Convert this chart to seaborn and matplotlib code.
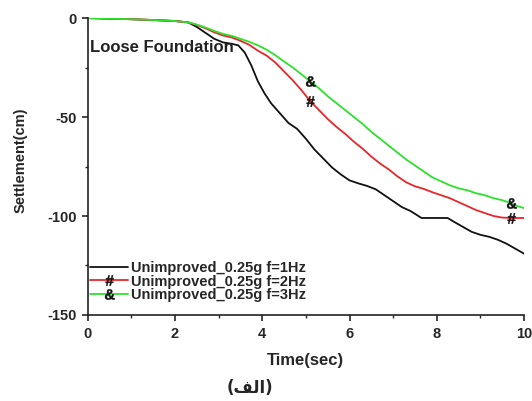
import numpy as np
import pandas as pd
import matplotlib
matplotlib.use("Agg")
import matplotlib.pyplot as plt
from matplotlib.ticker import MultipleLocator
from matplotlib.textpath import TextPath
from matplotlib.font_manager import FontProperties
from matplotlib.path import Path
import seaborn as sns

# Settlement records (time in seconds, settlement in cm)
t_1hz = [0, 0.5, 1.0, 1.5, 2.0, 2.3, 2.5, 2.7, 2.9, 3.1, 3.3, 3.45, 3.6, 3.75, 3.9,
         4.05, 4.2, 4.4, 4.6, 4.8, 5.0, 5.2, 5.4, 5.6, 5.8, 6.0, 6.2, 6.4, 6.6, 6.8,
         7.0, 7.2, 7.4, 7.65, 8.0, 8.25, 8.4, 8.6, 8.8, 9.0, 9.2, 9.4, 9.6, 9.8, 10.0]
s_1hz = [0, -0.3, -0.6, -1.0, -1.5, -2.2, -4.5, -7.5, -10.5, -12.3, -13.0, -13.8, -17.5,
         -24, -32, -38, -43, -48, -53, -56, -61, -66.5, -71, -75.5, -79, -82, -83.5,
         -84.8, -86.5, -89.5, -92.5, -95.5, -97.5, -101, -101, -101, -103, -105.5,
         -108, -109.5, -110.5, -112, -114, -116.5, -119]

t_2hz = [0, 0.5, 1.0, 1.5, 2.0, 2.3, 2.5, 2.7, 2.9, 3.1, 3.3, 3.5, 3.7, 3.9, 4.1, 4.3,
         4.5, 4.7, 4.9, 5.1, 5.3, 5.5, 5.7, 5.9, 6.1, 6.3, 6.5, 6.7, 6.9, 7.1, 7.3,
         7.5, 7.7, 7.9, 8.1, 8.3, 8.5, 8.7, 8.9, 9.1, 9.3, 9.5, 9.7, 10.0]
s_2hz = [0, -0.3, -0.6, -1.0, -1.5, -2.2, -3.5, -5.2, -7.2, -8.8, -9.8, -11.5, -13.5,
         -16.5, -19, -22.5, -27, -31.5, -36.5, -42, -46.5, -51, -55, -58.5, -62.5,
         -66, -70, -73.5, -76.5, -80, -83, -85, -86.3, -88, -89.5, -91, -93, -95,
         -97, -98.5, -100, -100.8, -101, -101]

t_3hz = [0, 0.5, 1.0, 1.5, 2.0, 2.3, 2.5, 2.7, 2.9, 3.1, 3.3, 3.5, 3.7, 3.9, 4.1, 4.3,
         4.5, 4.7, 4.9, 5.1, 5.3, 5.5, 5.7, 5.9, 6.1, 6.3, 6.5, 6.7, 6.9, 7.1, 7.3,
         7.5, 7.7, 7.9, 8.1, 8.3, 8.5, 8.7, 8.9, 9.1, 9.3, 9.5, 9.7, 9.85, 10.0]
s_3hz = [0, -0.3, -0.6, -1.0, -1.5, -2.2, -3.3, -4.8, -6.5, -8, -9, -10.5, -12, -13.8,
         -16, -18.8, -22, -25, -28.5, -32, -35.5, -39.5, -43, -46.5, -50, -53.5,
         -57.5, -61, -64.5, -68, -71.5, -74.5, -77.5, -80.5, -82.5, -84.5, -86, -87,
         -88.5, -89.5, -91, -92, -93.5, -95, -96]

labels = ["Unimproved_0.25g f=1Hz", "Unimproved_0.25g f=2Hz", "Unimproved_0.25g f=3Hz"]
colors = ["#111111", "#e8262a", "#2ee02e"]
symbols = [None, "#", "&"]
symbol_times = [5.1, 9.7]


def glyph_marker(ch):
    """Build a centred path marker from a single bold character."""
    tp = TextPath((0, 0), ch, size=10,
                  prop=FontProperties(family="Liberation Sans", weight="bold"))
    v = tp.vertices.copy()
    lo, hi = v.min(axis=0), v.max(axis=0)
    v -= (lo + hi) / 2
    return Path(v, tp.codes)


sns.set_style("ticks")
plt.rcParams["font.family"] = ["Liberation Sans", "DejaVu Sans"]
plt.rcParams["font.weight"] = "bold"
plt.rcParams["axes.unicode_minus"] = False

fig = plt.figure(figsize=(5.32, 4.01), dpi=100)
ax = fig.add_axes([0.165, 0.2145, 0.82, 0.7405])

series = [(t_1hz, s_1hz), (t_2hz, s_2hz), (t_3hz, s_3hz)]
for (t, s), lab, col, sym in zip(series, labels, colors, symbols):
    df = pd.DataFrame({"Time": t, "Settlement": s})
    kw = {}
    if sym is not None:
        idx = [int(np.argmin(np.abs(np.array(t) - v))) for v in symbol_times]
        kw = dict(marker=glyph_marker(sym), markevery=idx, markersize=7.5,
                  markerfacecolor="#111111", markeredgecolor="#111111",
                  markeredgewidth=0.3)
    sns.lineplot(data=df, x="Time", y="Settlement", ax=ax, color=col, label=lab,
                 linewidth=1.3, errorbar=None, sort=False, **kw)

ax.set_xlim(0, 10)
ax.set_ylim(-150, 0)
ax.xaxis.set_major_locator(MultipleLocator(2))
ax.xaxis.set_minor_locator(MultipleLocator(1))
ax.yaxis.set_major_locator(MultipleLocator(50))
ax.yaxis.set_minor_locator(MultipleLocator(25))
ax.tick_params(which="major", direction="out", length=4, width=1.2,
               labelsize=10.5, pad=4)
ax.tick_params(axis="x", which="major", pad=5)
ax.tick_params(which="minor", direction="out", length=2.5, width=1.0)
for lbl in ax.get_xticklabels() + ax.get_yticklabels():
    lbl.set_fontweight("bold")

sns.despine(ax=ax)
for sp in ("left", "bottom"):
    ax.spines[sp].set_linewidth(1.2)
    ax.spines[sp].set_color("#222222")

ax.set_xlabel("Time(sec)", fontsize=12, fontweight="bold", labelpad=8)
ax.set_ylabel("Settlement(cm)", fontsize=10.5, fontweight="bold")
ax.yaxis.set_label_coords(-0.138, 0.52)

ax.text(0.05, -15, "Loose Foundation", fontsize=12, fontweight="bold",
        ha="left", va="center", color="#222222")

leg = ax.legend(loc="lower left", frameon=False, fontsize=10.5, handlelength=2.6,
                handletextpad=0.2, labelspacing=-0.05, borderaxespad=0.9,
                borderpad=0.0, bbox_to_anchor=(-0.024, 0.0))
for txt in leg.get_texts():
    txt.set_fontweight("bold")

# Caption below the chart (Arabic, in visual order with joined letter forms)
fig.text(0.47, 0.032, "(\uFED2\uFEDF\uFE8D)", fontsize=12, fontweight="bold",
         ha="center", va="center", family=["DejaVu Sans"])

fig.savefig("out.png", dpi=100)
